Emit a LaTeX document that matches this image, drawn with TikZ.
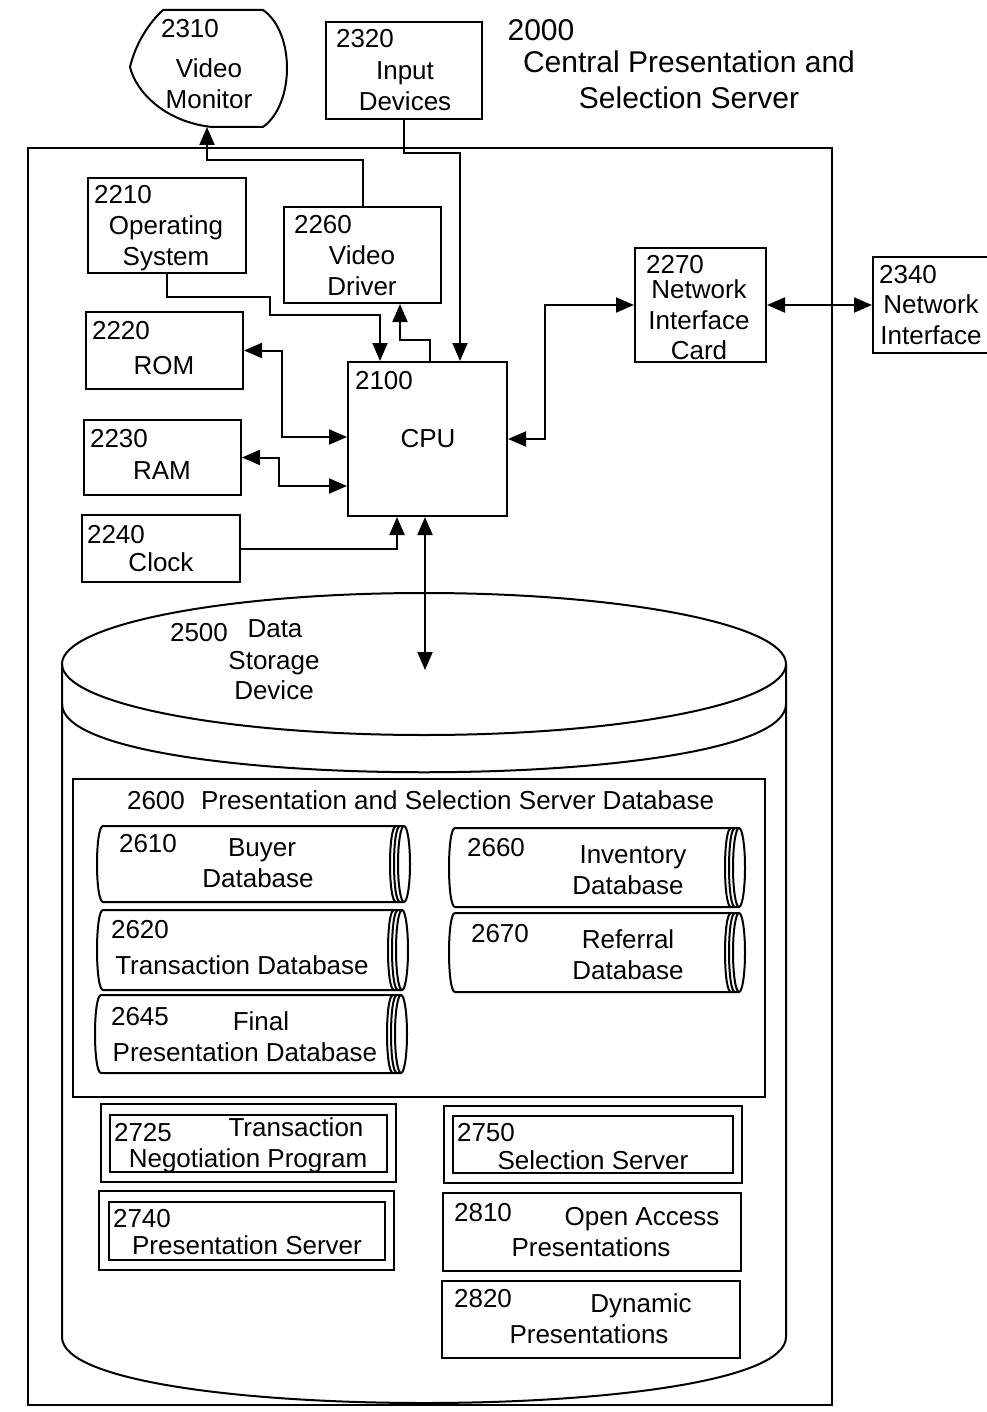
\documentclass[tikz,border=0pt]{standalone}
\usepackage{fontspec}
\setmainfont{Liberation Sans}
\usetikzlibrary{fit,arrows.meta}

\begin{document}
\begin{tikzpicture}[x=0.5pt, y=-0.5pt, line width=1pt,
  box/.style={draw, rectangle, inner sep=0pt, fit={#1}},
  lbl/.style={inner sep=0pt, text height=9.3pt, text depth=0pt,
              font=\fontsize{13}{15}\selectfont},
  ttl/.style={inner sep=0pt, text height=10.7pt, text depth=0pt,
              font=\fontsize{15}{18}\selectfont},
  arr/.style={-{Triangle[length=9pt,width=7.5pt]}},
  darr/.style={{Triangle[length=9pt,width=7.5pt]}-{Triangle[length=9pt,width=7.5pt]}}]
\useasboundingbox (0,0) rectangle (986,1412);

% server frame and title
\node[box={(28,148) (832,1405)}, line width=1.4pt] (srv) {};
\node[ttl] (n2000) at (541,30) {2000};
\node[ttl] (srv1) at (689,62) {Central Presentation and};
\node[ttl] (srv2) at (689,98) {Selection Server};

% outside devices
\draw (163,10) -- (263,10) .. controls (295,32) and (295,104) .. (263,127)
  -- (212,127) .. controls (165,122) and (136,92) .. (130,67)
  .. controls (136,42) and (150,22) .. (163,10) -- cycle;
\coordinate (monb) at (207,127);
\node[lbl] (n2310) at (190,28) {2310};
\node[lbl] (mon1) at (209,68) {Video};
\node[lbl] (mon2) at (209,99) {Monitor};

\node[box={(326,22) (482,119)}] (inp) {};
\node[lbl] (n2320) at (365,38) {2320};
\node[lbl] (inp1) at (405,70) {Input};
\node[lbl] (inp2) at (405,101) {Devices};

\node[box={(873,257) (990,353)}] (net) {};
\node[lbl] (n2340) at (908,274) {2340};
\node[lbl] (net1) at (931,304) {Network};
\node[lbl] (net2) at (931,335) {Interface};

% boards
\node[box={(88,178) (246,273)}] (os) {};
\node[lbl] (n2210) at (123,194) {2210};
\node[lbl] (os1) at (166,225) {Operating};
\node[lbl] (os2) at (166,256) {System};

\node[box={(284,207) (441,303)}] (drv) {};
\node[lbl] (n2260) at (323,224) {2260};
\node[lbl] (drv1) at (362,255) {Video};
\node[lbl] (drv2) at (362,286) {Driver};

\node[box={(86,312) (243,389)}] (rom) {};
\node[lbl] (n2220) at (121,330) {2220};
\node[lbl] (rom1) at (164,365) {ROM};

\node[box={(84,420) (241,495)}] (ram) {};
\node[lbl] (n2230) at (119,438) {2230};
\node[lbl] (ram1) at (162,470) {RAM};

\node[box={(82,515) (240,582)}] (clk) {};
\node[lbl] (n2240) at (116,534) {2240};
\node[lbl] (clk1) at (161,562) {Clock};

\node[box={(348,362) (507,516)}] (cpu) {};
\node[lbl] (n2100) at (384,380) {2100};
\node[lbl] (cpu1) at (428,438) {CPU};

\node[box={(635,248) (766,362)}] (nic) {};
\node[lbl] (n2270) at (675,264) {2270};
\node[lbl] (nic1) at (699,289) {Network};
\node[lbl] (nic2) at (699,320) {Interface};
\node[lbl] (nic3) at (699,350) {Card};

% data storage device
\draw (62,664) -- (62,1337) .. controls (62,1425) and (786,1425) .. (786,1337) -- (786,664);
\draw (424,664) ellipse [x radius=362, y radius=71];
\draw (62,704) .. controls (62,795) and (786,795) .. (786,704);
\coordinate (dsd) at (425,670);
\node[lbl] (n2500) at (199,632) {2500};
\node[lbl] (dsd1) at (275,628) {Data};
\node[lbl] (dsd2) at (274,660) {Storage};
\node[lbl] (dsd3) at (274,690) {Device};

% connectors
\draw[arr] (drv.north) |- (207,160) -- (monb);
\draw[arr] (inp.south) |- (460,153) -- (cpu.north -| 460,0);
\draw[arr] (os.south) |- (270,297) |- (380,315) -- (cpu.north -| 380,0);
\draw[arr] (cpu.north -| 430,0) |- (400,340) -- (drv.south -| 400,0);
\draw[darr] (rom.east) -| (282,437) -- (cpu.west |- 0,437);
\draw[darr] (ram.east) -| (279,486) -- (cpu.west |- 0,486);
\draw[arr] (clk.east) -| (cpu.south -| 397,0);
\draw[darr] (cpu.south -| 425,0) -- (dsd);
\draw[darr] (cpu.east) -| (545,305) -- (nic.west);
\draw[darr] (nic.east) -- (net.west);

% server database
\node[box={(73,779) (765,1097)}] (psdb) {};
\node[lbl] (n2600) at (156,800) {2600};
\node[lbl, anchor=west] (psdb1) at (200,800) {Presentation and Selection Server Database};

\foreach \xa/\ya/\xb/\yb in {97/826/410/902, 97/910/408/990, 95/995/407/1073,
                             449/828/745/907, 449/913/745/992}{
  \pgfmathsetmacro\cy{(\ya+\yb)/2}
  \pgfmathsetmacro\ry{(\yb-\ya)/2}
  \draw (\xb-6,\ya) -- (\xa+6,\ya) .. controls (\xa-2,\ya) and (\xa-2,\yb) .. (\xa+6,\yb) -- (\xb-6,\yb);
  \draw (\xb-6,\cy) ellipse [x radius=6, y radius=\ry];
  \draw (\xb-10,\ya) .. controls (\xb-18,\ya) and (\xb-18,\yb) .. (\xb-10,\yb);
  \draw (\xb-14,\ya) .. controls (\xb-22,\ya) and (\xb-22,\yb) .. (\xb-14,\yb);
}
\node[lbl] (n2610) at (148,843) {2610};
\node[lbl] (buy1) at (262,847) {Buyer};
\node[lbl] (buy2) at (258,878) {Database};
\node[lbl] (n2620) at (140,929) {2620};
\node[lbl] (trn1) at (242,965) {Transaction Database};
\node[lbl] (n2645) at (140,1016) {2645};
\node[lbl] (fin1) at (261,1021) {Final};
\node[lbl] (fin2) at (245,1052) {Presentation Database};
\node[lbl] (n2660) at (496,847) {2660};
\node[lbl] (inv1) at (633,854) {Inventory};
\node[lbl] (inv2) at (628,885) {Database};
\node[lbl] (n2670) at (500,933) {2670};
\node[lbl] (ref1) at (628,939) {Referral};
\node[lbl] (ref2) at (628,970) {Database};

% programs
\node[box={(101,1104) (396,1182)}] (tnp) {};
\node[box={(110,1115) (387,1172)}] (tnpi) {};
\node[lbl] (n2725) at (143,1132) {2725};
\node[lbl] (tnp1) at (296,1127) {Transaction};
\node[lbl] (tnp2) at (248,1158) {Negotiation Program};

\node[box={(99,1191) (394,1270)}] (psv) {};
\node[box={(109,1202) (385,1260)}] (psvi) {};
\node[lbl] (n2740) at (142,1218) {2740};
\node[lbl] (psv1) at (247,1245) {Presentation Server};

\node[box={(444,1106) (742,1183)}] (ssv) {};
\node[box={(453,1116) (733,1173)}] (ssvi) {};
\node[lbl] (n2750) at (486,1132) {2750};
\node[lbl] (ssv1) at (593,1160) {Selection Server};

\node[box={(443,1193) (741,1271)}] (oap) {};
\node[lbl] (n2810) at (483,1212) {2810};
\node[lbl] (oap1) at (642,1216) {Open Access};
\node[lbl] (oap2) at (591,1247) {Presentations};

\node[box={(442,1281) (740,1358)}] (dyn) {};
\node[lbl] (n2820) at (483,1298) {2820};
\node[lbl] (dyn1) at (641,1303) {Dynamic};
\node[lbl] (dyn2) at (589,1334) {Presentations};
\end{tikzpicture}
\end{document}
